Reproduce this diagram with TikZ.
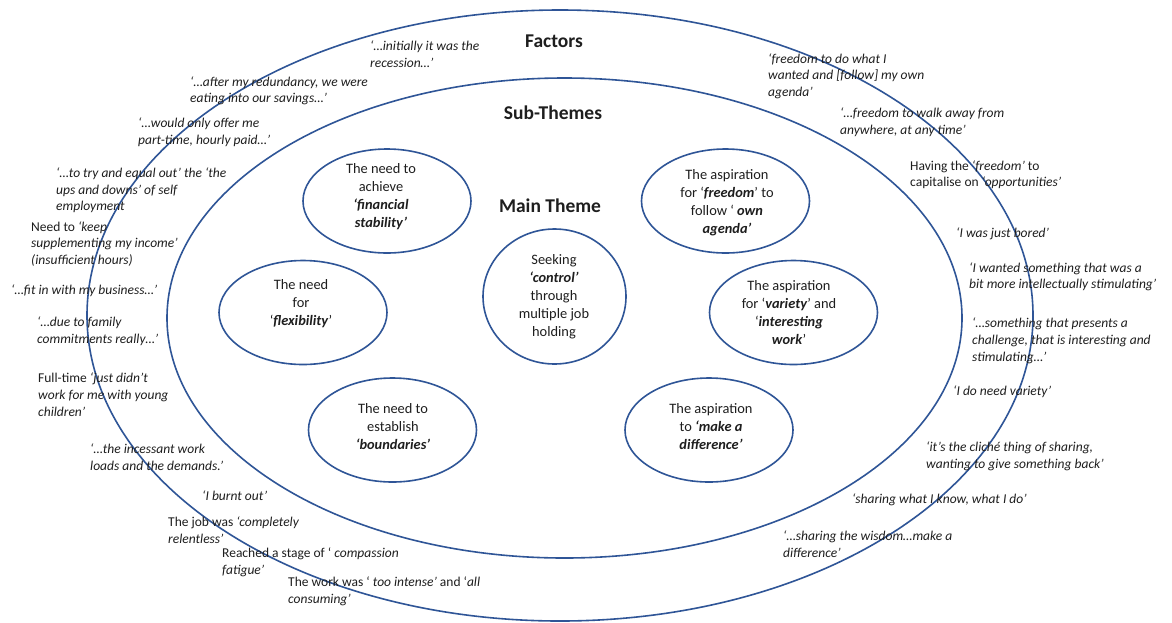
\documentclass[tikz,border=0pt]{standalone}
\usepackage{fontspec}
\setmainfont{Carlito}
\usetikzlibrary{shapes.geometric}
\definecolor{ringblue}{RGB}{47,85,151}
\definecolor{ink}{RGB}{30,30,30}
\tikzset{
  ring/.style={draw=ringblue, line width=1.6pt, ellipse, inner sep=0pt, outer sep=0pt},
  theme/.style={align=center, inner sep=0pt, text=ink, font={\fontsize{14.4}{18}\selectfont}},
  quote/.style={align=left, anchor=west, inner sep=0pt, text=ink, font={\fontsize{13.5}{16.7}\selectfont\itshape}},
  heading/.style={inner sep=0pt, text=ink, font={\fontsize{19.5}{23}\selectfont\bfseries}}
}
\begin{document}
\begin{tikzpicture}[x=1pt, y=-1pt]
\useasboundingbox (0,0) rectangle (1172,622);
\fill[white] (0,0) rectangle (1172,622);

% concentric rings: factors, sub-themes
\node[ring, minimum width=946, minimum height=611] (factorsring) at (560,315.5) {};
\node[ring, minimum width=795, minimum height=480] (subring) at (564.5,318) {};

% headings
\node[heading] (factorshead) at (554,41) {Factors};
\node[heading] (subhead) at (553,113) {Sub-Themes};
\node[heading] (mainhead) at (550,206) {Main Theme};

% main theme
\node[ring, minimum width=143, minimum height=135] (mainring) at (554.5,296.5) {};
\node[theme] (main) at (554,297) {Seeking\\\textbf{\textit{‘control’}}\\through\\multiple job\\holding};

% sub-themes
\node[ring, minimum width=168, minimum height=104] (finring) at (387,201) {};
\node[theme] (fin) at (381,197) {The need to\\achieve\\\textbf{\textit{‘financial}}\\\textbf{\textit{stability’}}};

\node[ring, minimum width=168, minimum height=104] (flexring) at (303,312.5) {};
\node[theme] (flex) at (301,304) {The need\\for\\‘\textbf{\textit{flexibility}}’};

\node[ring, minimum width=168, minimum height=104] (boundring) at (392.5,430) {};
\node[theme] (bound) at (393,427) {The need to\\establish\\\textbf{\textit{‘boundaries’}}};

\node[ring, minimum width=168, minimum height=104] (freering) at (725.5,201) {};
\node[theme] (free) at (727,203) {The aspiration\\for ‘\textbf{\textit{freedom}}’ to\\follow ‘ \textbf{\textit{own}}\\\textbf{\textit{agenda’}}};

\node[ring, minimum width=168, minimum height=104] (varring) at (793.5,312.5) {};
\node[theme] (var) at (789,313) {The aspiration\\for ‘\textbf{\textit{variety}}’ and\\‘\textbf{\textit{interesting}}\\\textbf{\textit{work}}’};

\node[ring, minimum width=168, minimum height=104] (diffring) at (709,430) {};
\node[theme] (diff) at (711,427) {The aspiration\\to \textbf{\textit{‘make a}}\\\textbf{\textit{difference’}}};

% factor quotes, left side
\node[quote] (q1) at (370,54) {‘…initially it was the\\recession…’};
\node[quote] (q2) at (190,90.7) {‘…after my redundancy, we were\\eating into our savings…’};
\node[quote] (q3) at (138,132.3) {‘…would only offer me\\part-time, hourly paid…’};
\node[quote] (q4) at (56,190.3) {‘…to try and equal out’ the ‘the\\ups and downs’ of self\\employment};
\node[quote] (q5) at (31,244) {\textup{Need to} ‘keep\\supplementing my income’\\(insufficient hours)};
\node[quote] (q6) at (11,290.7) {‘…fit in with my business…’};
\node[quote] (q7) at (37,331) {‘…due to family\\commitments really…’};
\node[quote] (q8) at (38,394.6) {\textup{Full-time} ‘just didn’t\\work for me with young\\children’};
\node[quote] (q9) at (90,457) {‘…the incessant work\\loads and the demands.’};
\node[quote] (q10) at (202,496) {‘I burnt out’};
\node[quote] (q11) at (168,530.5) {\textup{The job was} ‘completely\\relentless’};
\node[quote] (q12) at (222,562.3) {\textup{Reached a stage of ‘} compassion\\fatigue’};
\node[quote] (q13) at (288,591) {\textup{The work was ‘} too intense’ \textup{and ‘}all\\consuming’};

% factor quotes, right side
\node[quote] (q14) at (768,76.2) {‘freedom to do what I\\wanted and [follow] my own\\agenda’};
\node[quote] (q15) at (840,122) {‘…freedom to walk away from\\anywhere, at any time’};
\node[quote] (q16) at (910,174.7) {\textup{Having the} ‘freedom’ \textup{to}\\\textup{capitalise on} ‘opportunities’};
\node[quote] (q17) at (956,234) {‘I was just bored’};
\node[quote] (q18) at (969,276.7) {‘I wanted something that was a\\bit more intellectually stimulating’};
\node[quote] (q19) at (972,340.6) {‘…something that presents a\\challenge, that is interesting and\\stimulating…’};
\node[quote] (q20) at (953,392) {‘I do need variety’};
\node[quote] (q21) at (926,456.2) {‘it’s the cliché thing of sharing,\\wanting to give something back’};
\node[quote] (q22) at (852,500) {‘sharing what I know, what I do’};
\node[quote] (q23) at (783,544.3) {‘…sharing the wisdom…make a\\difference’};
\end{tikzpicture}
\end{document}
